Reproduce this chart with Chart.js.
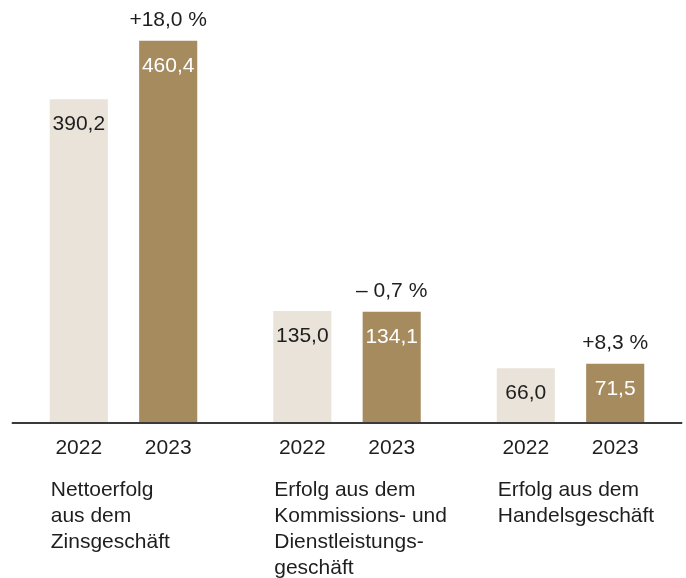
<!DOCTYPE html>
<html>
<head>
<meta charset="utf-8">
<script src="https://cdn.jsdelivr.net/npm/chart.js@4/dist/chart.umd.min.js"></script>
<style>
    html, body { margin: 0; padding: 0; background: #ffffff; }
    #myChartContainer { position: relative; width: 686px; height: 578px; }
</style>
</head>
<body>
<div id="myChartContainer"><canvas id="myChart"></canvas></div>
<script>
var groups = [
    ['Nettoerfolg', 'aus dem', 'Zinsgeschäft'],
    ['Erfolg aus dem', 'Kommissions- und', 'Dienstleistungs-', 'geschäft'],
    ['Erfolg aus dem', 'Handelsgeschäft']
];
var years = ['2022', '2023'];
var values2022 = [390.2, 135.0, 66.0];
var values2023 = [460.4, 134.1, 71.5];
var changes = ['+18,0 %', '\u2013 0,7 %', '+8,3 %'];

var FONT = '21px "Liberation Sans", Arial, sans-serif';
var TEXT = '#1e1e1e';

function fmt(v) {
    return v.toFixed(1).replace('.', ',');
}

// labels in bars, changes on top, years and group names under the axis
var labelsPlugin = {
    id: 'labels',
    afterDatasetsDraw: function(chart) {
        var ctx = chart.ctx;
        var area = chart.chartArea;
        var zeroY = chart.scales.y.getPixelForValue(0);
        var meta0 = chart.getDatasetMeta(0);
        var meta1 = chart.getDatasetMeta(1);

        ctx.save();
        ctx.strokeStyle = '#3a3a3a';
        ctx.lineWidth = 2;
        ctx.beginPath();
        ctx.moveTo(area.left, zeroY);
        ctx.lineTo(area.right, zeroY);
        ctx.stroke();

        ctx.font = FONT;
        ctx.textBaseline = 'alphabetic';
        chart.data.datasets.forEach(function(ds, d) {
            var meta = chart.getDatasetMeta(d);
            meta.data.forEach(function(bar, i) {
                ctx.textAlign = 'center';
                ctx.fillStyle = d === 0 ? TEXT : '#ffffff';
                ctx.fillText(fmt(ds.data[i]), bar.x, bar.y + 31);
                ctx.fillStyle = TEXT;
                ctx.fillText(ds.label, bar.x, zeroY + 31);
            });
        });

        meta1.data.forEach(function(bar, i) {
            ctx.textAlign = 'center';
            ctx.fillStyle = TEXT;
            ctx.fillText(changes[i], bar.x, bar.y - 15);
        });

        meta0.data.forEach(function(bar, i) {
            var left = bar.x - bar.width / 2 + 1;
            ctx.textAlign = 'left';
            ctx.fillStyle = TEXT;
            chart.data.labels[i].forEach(function(line, k) {
                ctx.fillText(line, left, zeroY + 73 + k * 26);
            });
        });
        ctx.restore();
    }
};

document.addEventListener('DOMContentLoaded', function(){
    var data = {
        labels: groups,
        datasets: [{
            label: years[0],
            backgroundColor: '#e9e3da',
            data: values2022
        }, {
            label: years[1],
            backgroundColor: '#a68b5f',
            data: values2023
        }]
    };
    var options = {
        responsive: true,
        maintainAspectRatio: false,
        animation: false,
        layout: {
            padding: { top: 8, bottom: 155, left: 11.75, right: 3.75 }
        },
        datasets: {
            bar: { categoryPercentage: 0.8, barPercentage: 0.65 }
        },
        plugins: {
            legend: { display: false },
            tooltip: { enabled: false }
        },
        scales: {
            x: { display: false },
            y: { display: false, min: 0, max: 500 }
        }
    };

    var ctx = document.getElementById('myChart').getContext('2d');
    var myChart = new Chart(ctx, {
        type: 'bar',
        data: data,
        options: options,
        plugins: [labelsPlugin]
    });
});
</script>
</body>
</html>
